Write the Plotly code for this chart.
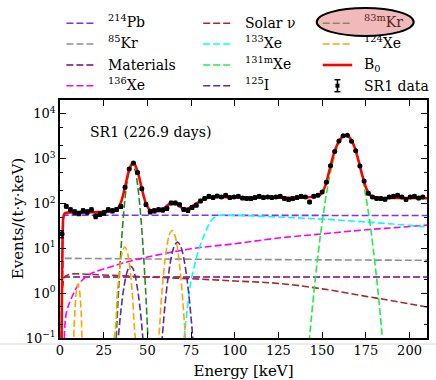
import numpy as np
import plotly.graph_objects as go

# ---------------- data ----------------
DATA_E = [1.2, 3.6, 6.0, 8.4, 10.8, 13.2, 15.6, 18.0, 20.4, 22.8, 25.2, 27.6, 30.0, 32.4, 34.8,
          37.2, 39.6, 42.0, 44.4, 46.8, 49.2, 51.6, 54.0, 56.4, 58.8, 61.2, 63.6, 66.0, 68.4,
          70.8, 73.2, 75.6, 78.0, 80.4, 82.8, 85.2, 87.6, 90.0, 92.4, 94.8, 97.2, 99.6, 102.0,
          104.4, 106.8, 109.2, 111.6, 114.0, 116.4, 118.8, 121.2, 123.6, 126.0, 128.4, 130.8,
          133.2, 135.6, 138.0, 140.4, 142.8, 145.2, 147.6, 150.0, 152.4, 154.8, 157.2, 159.6,
          162.0, 164.4, 166.8, 169.2, 171.6, 174.0, 176.4, 178.8, 181.2, 183.6, 186.0, 188.4,
          190.8, 193.2, 195.6, 198.0, 200.4, 202.8, 205.2, 207.6]
DATA_V = [21, 87, 73, 65, 60, 69, 65, 73, 52, 58, 62, 73, 69, 74, 86,
          230, 590, 800, 490, 215, 95, 66, 69, 73, 72, 78, 103, 103, 94,
          74, 71, 82, 92, 114, 130, 145, 136, 148, 140, 153, 136, 140, 145,
          133, 129, 129, 136, 145, 136, 140, 136, 140, 145, 129, 123,
          129, 136, 145, 140, 108, 145, 153, 180, 300, 700, 1450, 2500,
          3250, 3350, 2450, 1500, 690, 320, 170, 140, 130, 129, 125, 140,
          145, 153, 140, 123, 140, 145, 133, 140]
EXPOSURE = 0.65 * 2.4   # t*y*keV per bin (for Poisson error bars)
DATA_ERR = [np.sqrt(v * EXPOSURE) / EXPOSURE for v in DATA_V]

B0_E = [0.9, 1.2, 1.5, 1.8, 2.3, 3.0, 5, 10, 15, 20, 25, 30, 33, 35, 37, 39, 41, 42, 43, 45,
        47, 49, 51, 53, 56, 59, 62, 64, 66, 68, 70, 72, 74, 77, 80, 83, 86, 90, 100, 120, 140,
        148, 150, 152, 154, 156, 158, 160, 162, 163.3, 165, 167, 169, 171, 173, 175, 177, 179,
        182, 190, 200, 210]
B0_V = [0.1, 2, 20, 45, 57, 61, 63, 63, 63, 64, 65, 68, 78, 110, 215, 470, 760, 800, 720, 430,
        200, 105, 75, 68, 70, 76, 95, 104, 104, 92, 78, 74, 80, 95, 112, 128, 137, 140, 138, 136, 136,
        150, 175, 260, 520, 1050, 1800, 2600, 3200, 3350, 3200, 2500, 1600, 850, 420, 230, 160, 140,
        133, 133, 133, 132]

PB214_E = [0.9, 1.2, 1.6, 2.2, 3.0, 10, 50, 100, 150, 210]
PB214_V = [0.1, 5, 35, 52, 55, 55, 55, 55, 54.5, 54]

KR85_E = [0.9, 1.3, 2.0, 3.0, 50, 100, 150, 210]
KR85_V = [0.1, 2, 5.5, 6.0, 5.8, 5.7, 5.6, 5.4]

MAT_E = [0.9, 1.3, 2.0, 3.0, 210]
MAT_V = [0.1, 1.2, 2.2, 2.3, 2.3]

XE136_E = [2.5, 3.6, 6.5, 11.3, 17.9, 28.4, 36, 50, 75, 100, 125, 150, 175, 192, 210]
XE136_V = [0.1, 0.36, 0.77, 1.7, 2.75, 3.8, 4.7, 6.4, 9.8, 12.7, 17, 21, 26, 29, 33]

SOLAR_E = [1.0, 1.4, 2.5, 5, 8, 15, 25, 50, 75, 100, 125, 150, 175, 190, 210]
SOLAR_V = [0.1, 1.5, 2.3, 2.6, 2.7, 2.65, 2.55, 2.3, 2.1, 1.87, 1.65, 1.25, 0.85, 0.68, 0.49]

XE133_E = [71, 73, 75, 77.5, 80, 83, 85.5, 88, 90.5, 95, 110, 130, 150, 170, 190, 210]
XE133_V = [0.1, 0.5, 1.9, 5, 11, 22, 36, 48, 54, 55, 53, 49, 45, 40, 35, 30]

XE131M_E = [142.5, 145.2, 148, 150.3, 153, 156, 158.5, 161, 163.6, 166.2, 168.7, 171.2,
            174.2, 177, 179.3, 182.1, 184.7]
XE131M_V = [0.08, 0.97, 9.5, 46, 218, 803, 1718, 2722, 3200, 2722, 1718, 803,
            218, 46, 9.5, 0.97, 0.08]

I125_E = [33.0, 34.6, 36.2, 37.8, 39.2, 40.4, 41.6, 43.0, 44.6, 46.2, 47.8, 53.0,
          58.2, 60.0, 61.8, 63.6, 65.4, 67.2, 69.0, 70.8, 72.6, 74.4, 76.2]
I125_V = [0.069, 0.33, 1.08, 2.43, 3.6, 4.0, 3.6, 2.43, 1.08, 0.33, 0.069, 0.001,
          0.079, 0.51, 2.16, 6.05, 11.2, 13.8, 11.2, 6.05, 2.16, 0.51, 0.079]

KR83M_E = [32.2, 33.5, 35, 36.5, 38, 39.6, 41.25, 42.9, 44.5, 46, 47.5, 49, 50.3]
KR83M_V = [0.1, 1.13, 11, 65.5, 239, 559, 750, 559, 239, 65.5, 11, 1.13, 0.1]

XE124_E = [7.6, 8.5, 9.4, 10.3, 11.2, 12.1, 13.0, 20,
           31.2, 32.8, 34.2, 35.6, 37.1, 38.6, 40.0, 41.4, 43.0, 50,
           56.4, 58.0, 59.6, 61.1, 62.6, 64.1, 65.6, 67.1, 68.6, 70.2, 71.8]
XE124_V = [0.063, 0.38, 1.12, 1.6, 1.12, 0.38, 0.063, 0.001,
           0.11, 0.97, 3.59, 8.0, 10.7, 8.0, 3.59, 0.97, 0.11, 0.001,
           0.092, 0.74, 3.69, 10.7, 20.2, 25, 20.2, 10.7, 3.69, 0.74, 0.092]

X_TICKS = [0, 25, 50, 75, 100, 125, 150, 175, 200]
Y_TICKS = [0.1, 1, 10, 100, 1000, 10000]
Y_TICKTEXT = ["10<sup>−1</sup>", "10<sup>0</sup>", "10<sup>1</sup>", "10<sup>2</sup>",
              "10<sup>3</sup>", "10<sup>4</sup>"]

FONT = "DejaVu Serif"
DASH = "7px,3px"

COLORS = {
    "pb214": "#7f2fff", "kr85": "#909090", "mat": "#800080", "xe136": "#ff00ff",
    "solar": "#a52a2a", "xe133": "#00ffff", "xe131m": "#22ee44", "i125": "#5a2aa8",
    "kr83m": "#228b22", "xe124": "#ffa500", "b0": "#ff0000",
}

fig = go.Figure()

def comp(E, V, key, shape="spline"):
    fig.add_trace(go.Scatter(
        x=E, y=V, mode="lines", showlegend=False,
        line=dict(color=COLORS[key], width=1.6, dash=DASH, shape=shape),
        hoverinfo="skip"))

comp(PB214_E, PB214_V, "pb214", "linear")
comp(KR85_E, KR85_V, "kr85", "linear")
comp(MAT_E, MAT_V, "mat", "linear")
comp(XE136_E, XE136_V, "xe136")
comp(SOLAR_E, SOLAR_V, "solar")
comp(XE133_E, XE133_V, "xe133")
comp(XE131M_E, XE131M_V, "xe131m")
comp(I125_E, I125_V, "i125")
comp(KR83M_E, KR83M_V, "kr83m")
comp(XE124_E, XE124_V, "xe124")

fig.add_trace(go.Scatter(
    x=B0_E, y=B0_V, mode="lines", showlegend=False,
    line=dict(color=COLORS["b0"], width=2.6, shape="spline", smoothing=0.6), hoverinfo="skip"))

fig.add_trace(go.Scatter(
    x=DATA_E, y=DATA_V, mode="markers", showlegend=False,
    marker=dict(color="black", size=5, symbol="circle"),
    error_y=dict(type="data", array=DATA_ERR, visible=True, color="black", thickness=1.5, width=2),
    hoverinfo="skip"))

# ---------------- geometry (pixels of the 436x380 page) ----------------
L = 60.3; R = 427.3; T = 100.0; B = 338.0
def px(x):
    return (x - L) / (R - L)
def py(y):
    return (B - y) / (B - T)

# hand-built legend: (label, colour key, column, row)
LEGEND = [
    ("<sup>214</sup>Pb", "pb214", 0, 0), ("<sup>85</sup>Kr", "kr85", 0, 1),
    ("Materials", "mat", 0, 2), ("<sup>136</sup>Xe", "xe136", 0, 3),
    ("Solar ν", "solar", 1, 0), ("<sup>133</sup>Xe", "xe133", 1, 1),
    ("<sup>131m</sup>Xe", "xe131m", 1, 2), ("<sup>125</sup>I", "i125", 1, 3),
    ("<sup>83m</sup>Kr", "kr83m", 2, 0), ("<sup>124</sup>Xe", "xe124", 2, 1),
    ("B<sub>0</sub>", "b0", 2, 2), ("SR1 data", None, 2, 3),
]
COL_LINE_X = [66.7, 203.5, 323.0]
COL_TEXT_X = [106.5, 243.0, 362.5]
ROW_Y = [23.3, 44.0, 65.0, 85.7]
LINE_LEN = 29.5

shapes = []
annotations = []
for label, key, c, r in LEGEND:
    yc = ROW_Y[r]
    x0 = COL_LINE_X[c]
    if key is None:
        xm = x0 + LINE_LEN / 2
        shapes.append(dict(type="line", xref="paper", yref="paper", x0=px(xm), x1=px(xm),
                           y0=py(yc - 6), y1=py(yc + 6), line=dict(color="black", width=1.5)))
        for yy in (yc - 6, yc + 6):
            shapes.append(dict(type="line", xref="paper", yref="paper", x0=px(xm - 3), x1=px(xm + 3),
                               y0=py(yy), y1=py(yy), line=dict(color="black", width=1.5)))
        shapes.append(dict(type="rect", xref="paper", yref="paper", x0=px(xm - 2), x1=px(xm + 2),
                           y0=py(yc - 2), y1=py(yc + 2), fillcolor="black",
                           line=dict(color="black", width=0)))
    elif key == "b0":
        shapes.append(dict(type="line", xref="paper", yref="paper", x0=px(x0), x1=px(x0 + LINE_LEN),
                           y0=py(yc), y1=py(yc), line=dict(color=COLORS[key], width=2.6)))
    else:
        shapes.append(dict(type="line", xref="paper", yref="paper", x0=px(x0), x1=px(x0 + LINE_LEN),
                           y0=py(yc), y1=py(yc), line=dict(color=COLORS[key], width=1.6, dash=DASH)))
    has_sup = "<sup>" in label
    annotations.append(dict(
        text=label, xref="paper", yref="paper", x=px(COL_TEXT_X[c]), y=py(yc),
        xanchor="left", yanchor="middle", showarrow=False, yshift=(2 if has_sup else 0),
        font=dict(family=FONT, size=14, color=("#5a2020" if key == "kr83m" else "black"))))

# highlight ellipse around the 83mKr entry (drawn over the legend sample)
shapes.append(dict(type="circle", xref="paper", yref="paper",
                   x0=px(317), x1=px(414), y0=py(36), y1=py(8),
                   fillcolor="rgba(228,130,130,0.55)", line=dict(color="black", width=2)))
# faint page line under the plot
shapes.append(dict(type="line", xref="paper", yref="paper", x0=px(0), x1=px(436),
                   y0=py(344), y1=py(344), line=dict(color="#d8d8d8", width=1)))

annotations.append(dict(text="SR1 (226.9 days)", xref="paper", yref="paper", x=px(88), y=py(132),
                        xanchor="left", yanchor="middle", showarrow=False,
                        font=dict(family=FONT, size=14, color="black")))
# y-axis title as rotated text (exact placement)
annotations.append(dict(text="Events/(t·y·keV)", xref="paper", yref="paper", x=px(18.5), y=py(219),
                        xanchor="center", yanchor="middle", showarrow=False, textangle=-90,
                        font=dict(family=FONT, size=15, color="black")))

fig.update_layout(
    width=436, height=380,
    margin=dict(l=60, r=9, t=100, b=42),
    paper_bgcolor="white", plot_bgcolor="white",
    font=dict(family=FONT, size=13, color="black"),
    showlegend=False,
    shapes=shapes,
    annotations=annotations,
)

fig.update_xaxes(
    range=[0, 210], tickvals=X_TICKS, ticks="inside", ticklen=6, tickwidth=1.2, tickcolor="black",
    showline=True, linecolor="black", linewidth=1.5, mirror="ticks", showgrid=False, zeroline=False,
    automargin=False,
    title=dict(text="Energy [keV]", font=dict(family=FONT, size=15), standoff=12),
    tickfont=dict(family=FONT, size=13))

fig.update_yaxes(
    type="log", range=[-1, 4.31], tickvals=Y_TICKS, ticktext=Y_TICKTEXT,
    ticks="inside", ticklen=6, tickwidth=1.2, tickcolor="black",
    minor=dict(ticks="inside", ticklen=3, tickcolor="black", tickwidth=1, showgrid=False),
    showline=True, linecolor="black", linewidth=1.5, mirror="ticks", showgrid=False, zeroline=False,
    automargin=False,
    tickfont=dict(family=FONT, size=13))

fig.write_html("out.html")
